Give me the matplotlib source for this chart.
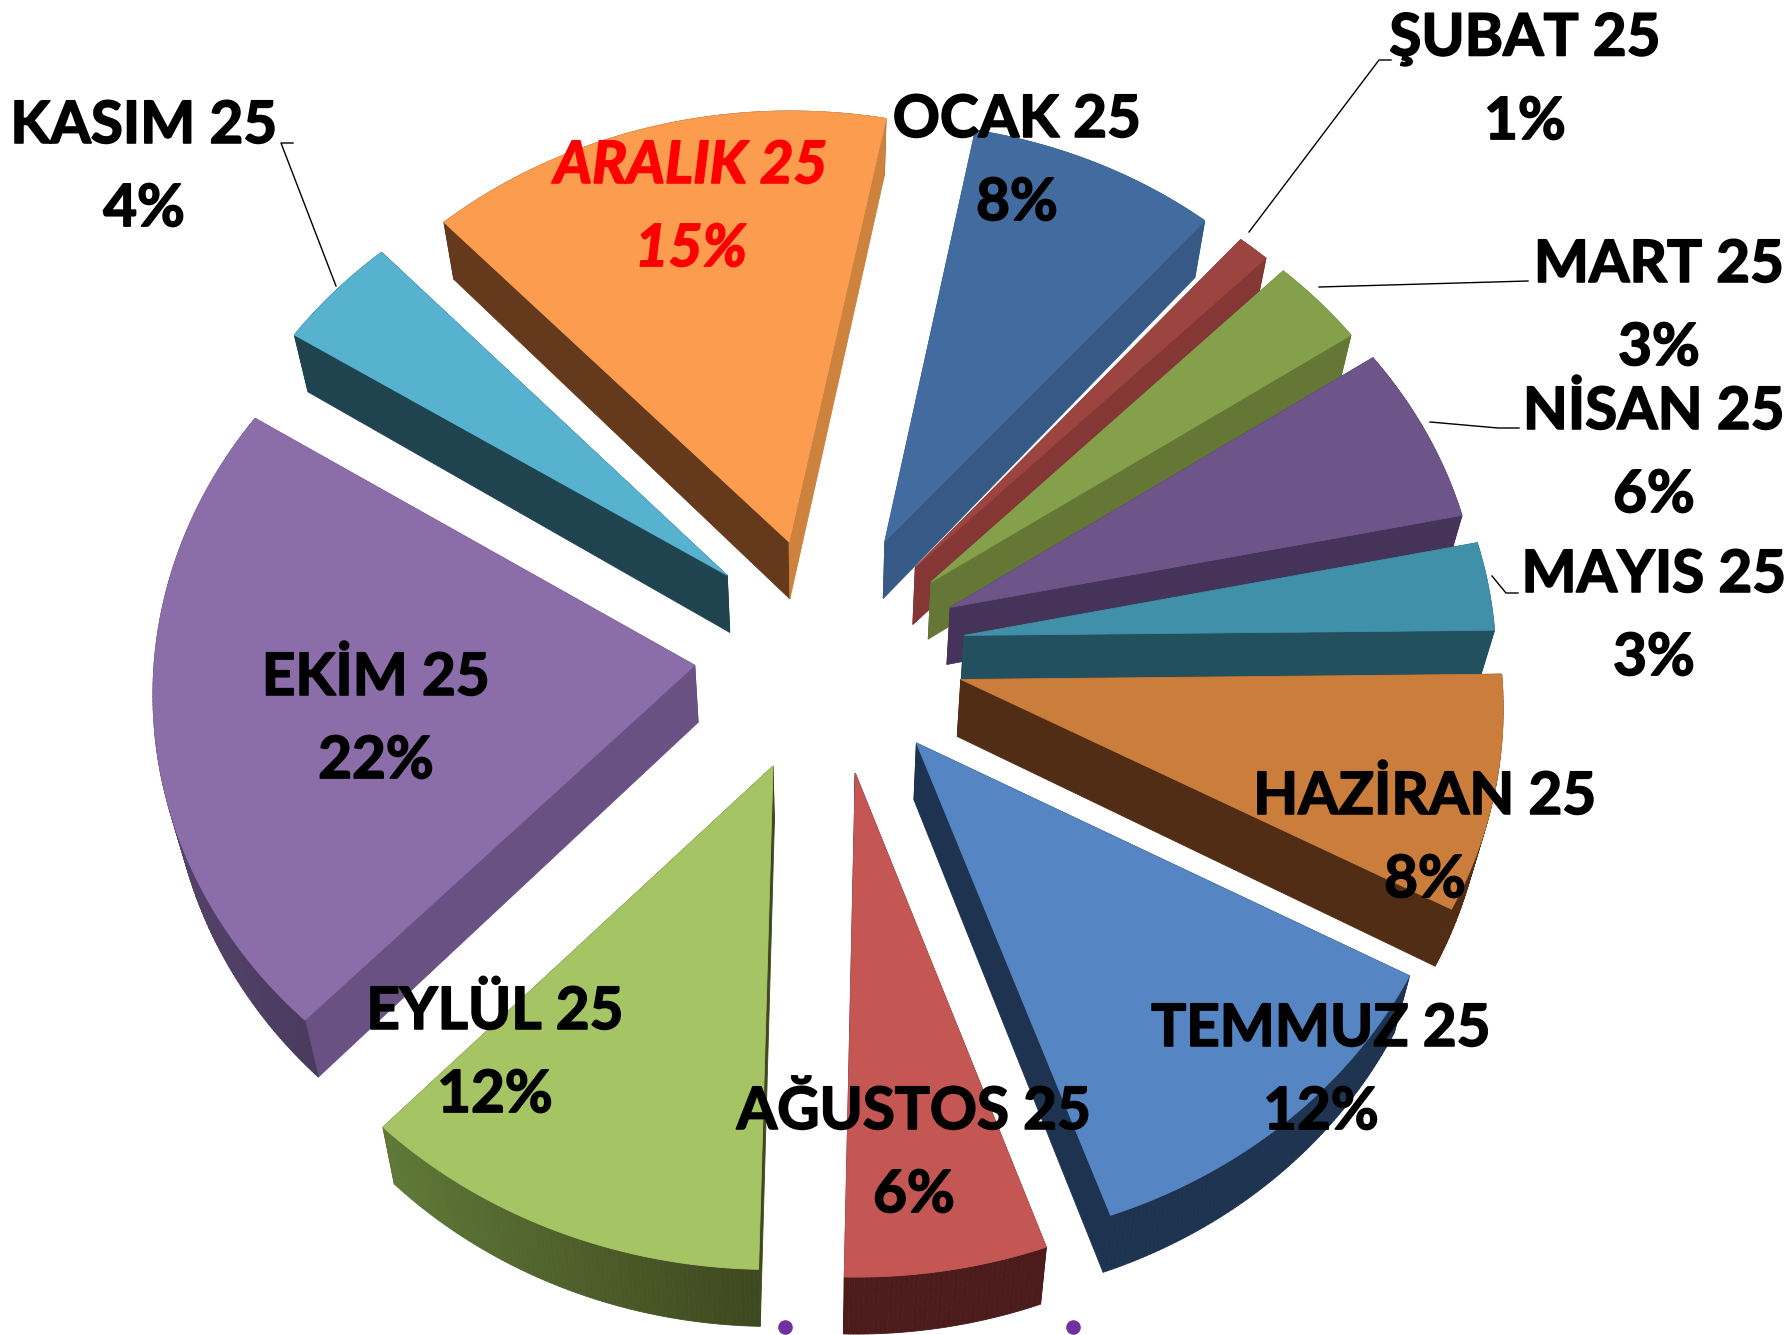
import matplotlib
matplotlib.use('Agg')
import matplotlib.pyplot as plt
import matplotlib.colors as mcolors
import matplotlib.patheffects as pe
import numpy as np

# Months and their share, starting from OCAK and going clockwise
months = ['OCAK 25', 'ŞUBAT 25', 'MART 25', 'NİSAN 25', 'MAYIS 25', 'HAZİRAN 25',
          'TEMMUZ 25', 'AĞUSTOS 25', 'EYLÜL 25', 'EKİM 25', 'KASIM 25', 'ARALIK 25']
shares = [8, 1, 3, 6, 3, 8, 12, 6, 12, 22, 4, 15]

# Styling per slice
top_colors = ['#426C9F', '#9C4440', '#85A04A', '#6D5489', '#3F90A8', '#CB7D3B',
              '#5585C2', '#C45754', '#A5C463', '#8A6DA9', '#56B2CE', '#FC9C4F']
wall_colors = ['#365A85', '#843735', '#647735', '#46335A', '#22505E', '#512D15',
               '#1E3350', '#4C1C1C', '#3F481F', '#6A5183', '#1F444F', '#653A1C']
rim_start = ['#365A85', '#843735', '#647735', '#46335A', '#22505E', '#512D15',
             '#1E3350', '#4C1C1C', '#3F481F', '#4A3A5E', '#1F444F', '#653A1C']
rim_end = ['#365A85', '#843735', '#647735', '#46335A', '#22505E', '#512D15',
           '#1E3350', '#4C1C1C', '#5F7A38', '#6A5183', '#1F444F', '#653A1C']
explode = [115, 125, 130, 130, 140, 135, 140, 125, 125, 135, 115, 110]
radius_scale = [0.955, 0.975, 0.98, 0.985, 0.985, 1, 1, 1, 1, 1, 0.99, 0.985]
nudge_x = [13, 10, 11, 10, 3, 5, -3, 9, -3, 6, -8, -4]
nudge_y = [-17, 0, 8, 7, 6, 9, 5, 17, 16, 3, -9, -15]
label_pos = [(1017, 162), (1525, 81), (1659, 307), (1654, 454), (1654, 617), (1425, 839),
             (1321, 1071), (914, 1154), (495, 1054), (376, 720), (144, 168), (691, 208)]

leaders = [
    [(1391, 60), (1379, 60), (1249, 232)],
    [(1528, 281), (1319, 287)],
    [(1519, 428), (1498, 428), (1430, 422)],
    [(1518, 593), (1506, 593), (1492, 576)],
    [(293, 143), (281, 143), (336, 286)],
]
dots_x = [785, 1073]
dots_y = [1327, 1327]

WIDTH, HEIGHT = 1787, 1335
CX, CY = 823, 648
RADIUS = 540
START_ANGLE = 11
KY = 0.87
PERSP = 0.05
DEPTH = 57
DEPTH_X = 0.974


def skew(angle):
    # the right hand side of the pie leans clockwise in the picture
    angle = np.asarray(angle, dtype=float)
    return angle + np.where((angle > 20) & (angle < 200), 3 * np.sin(np.radians(angle - 20)), 0)


def project(u, v):
    s = 1 + PERSP * v / RADIUS
    return CX + u * s, CY + v * KY * s


def slice_outline(start, end, offset, scale):
    # apex first, then the rim, everything on the flat pie before projection
    mid = np.radians((start + end) / 2)
    ox, oy = offset * np.sin(mid), -offset * np.cos(mid)
    t = np.radians(skew(np.linspace(start, end, max(int(end - start) * 2, 4))))
    us = np.concatenate([[ox], ox + scale * RADIUS * np.sin(t)])
    vs = np.concatenate([[oy], oy - scale * RADIUS * np.cos(t)])
    return project(us, vs)


def lower(x, y):
    return CX + (x - CX) * DEPTH_X, y + DEPTH


fig = plt.figure(figsize=(WIDTH / 100, HEIGHT / 100), dpi=100)
ax = fig.add_axes([0, 0, 1, 1])
ax.set_xlim(0, WIDTH)
ax.set_ylim(HEIGHT, 0)
ax.axis('off')

edges = np.cumsum([0] + shares) * 3.6 + START_ANGLE
slices = []
for i in range(len(shares)):
    px, py = slice_outline(edges[i], edges[i + 1], explode[i], radius_scale[i])
    slices.append((i, px + nudge_x[i], py + nudge_y[i]))

# paint from the back of the picture to the front
slices.sort(key=lambda item: item[2].mean())

for i, px, py in slices:
    bx, by = lower(px, py)
    n = len(px)
    quads = []
    for j in range(n):
        k = (j + 1) % n
        if j == 0 or j == n - 1:
            color = wall_colors[i]
            if months[i].startswith('ARALIK') and j == n - 1:
                color = '#CD823E'
        else:
            f = (j - 1) / max(n - 3, 1)
            a = np.array(mcolors.to_rgb(rim_start[i]))
            b = np.array(mcolors.to_rgb(rim_end[i]))
            color = tuple(a + (b - a) * f)
        quads.append((px[k] - px[j], [px[j], px[k], bx[k], bx[j]], [py[j], py[k], by[k], by[j]], color))
    # faces turned away from the viewer go first
    quads.sort(key=lambda q: q[0] < 0)
    for dx, qx, qy, color in quads:
        ax.fill(qx, qy, color=color, lw=0.6)
    ax.fill(px, py, color=top_colors[i], lw=0.6)

for line in leaders:
    xs, ys = zip(*line)
    ax.plot(xs, ys, color='black', lw=1)

ax.scatter(dots_x, dots_y, s=110, color='#7030A0', linewidths=0)

for i, name in enumerate(months):
    red = name.startswith('ARALIK')
    color = 'red' if red else 'black'
    ax.text(label_pos[i][0], label_pos[i][1], '%s\n%d%%' % (name, shares[i]),
            ha='center', va='center', family='Lato', weight='bold', fontsize=42,
            linespacing=1.7, color=color, style='italic' if red else 'normal',
            path_effects=[pe.withStroke(linewidth=1.2, foreground=color)])

fig.savefig('out.png', dpi=100, facecolor='white')
